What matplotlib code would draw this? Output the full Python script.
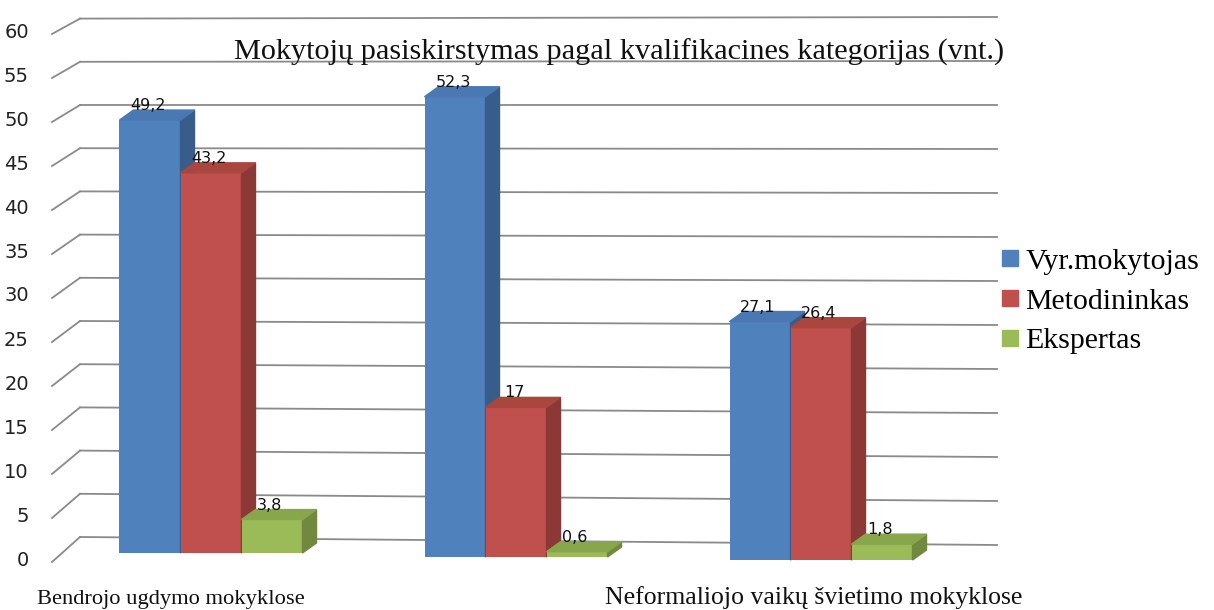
import matplotlib
matplotlib.use("Agg")
import matplotlib.pyplot as plt
from matplotlib.patches import Polygon
from matplotlib.lines import Line2D

# data
groups = ["Bendrojo ugdymo mokyklose", "", "Neformaliojo vaikų švietimo mokyklose"]
series = ["Vyr.mokytojas", "Metodininkas", "Ekspertas"]
vyr = [49.2, 52.3, 27.1]
metod = [43.2, 17, 26.4]
eksp = [3.8, 0.6, 1.8]
yticks = list(range(0, 65, 5))

front = ["#4F81BD", "#C0504D", "#9BBB59"]
side = ["#385D8A", "#8C3836", "#71893F"]
top = ["#4A78B2", "#A9473F", "#88A64C"]

# pixel -> data helpers (figure is 1214x610 at dpi 100, value 0 sits at y=557px)
PX_X = 305.0   # px per category step
PX_Y = 8.8     # px per value unit
X0 = 211       # px of first group centre
def ux(px):
    return px / PX_X
def uy(px):
    return px / PX_Y

fig = plt.figure(figsize=(12.14, 6.1), dpi=100)
ax = fig.add_axes([0, 0, 1, 1])
ax.set_xlim(-X0 / PX_X, (1214 - X0) / PX_X)
ax.set_ylim(-(610 - 557) / PX_Y, (557) / PX_Y)
ax.axis("off")

# back wall gridlines with the slanted side wall part (perspective look)
for v in yticks:
    lab = v - uy(3)
    y_front = lab - uy(2)
    y_back_l = lab + uy(23 - 0.16 * v)
    y_back_r = lab + uy(15)
    xa, xb, xc = ux(52 - X0), ux(80 - X0), ux(997 - X0)
    ax.plot([xa, xb], [y_front, y_back_l], color="#8a8a8a", lw=1.3, zorder=1)
    ax.plot([xb, xc], [y_back_l, y_back_r], color="#8a8a8a", lw=1.3, zorder=1)
    ax.text(ux(29 - X0), lab, str(v), ha="right", va="center",
            fontsize=14, color="#222222", family="DejaVu Sans")

# pseudo 3d bars, each group sits a little lower going right
base = [uy(4), 0, -uy(3)]
width = ux(61)
dx, dy = ux(14), uy(10)
values = [vyr, metod, eksp]
z = 3
for g in range(len(groups)):
    b = base[g]
    for s in range(len(series)):
        v = values[s][g]
        xl = g + (s - 1.5) * width
        xr = xl + width
        ax.bar(xl, v, width=width, bottom=b, align="edge", color=front[s], zorder=z)
        ax.add_patch(Polygon([(xr, b), (xr + dx, b + dy), (xr + dx, b + v + dy), (xr, b + v)],
                             closed=True, color=side[s], zorder=z))
        ax.add_patch(Polygon([(xl, b + v), (xl + dx, b + v + dy), (xr + dx, b + v + dy), (xr, b + v)],
                             closed=True, color=top[s], zorder=z))
        ax.text(xl + width / 2 - ux(2), b + v + dy, f"{v:g}".replace(".", ","),
                ha="center", va="baseline", fontsize=11.5, color="#111111",
                family="DejaVu Sans", zorder=z + 1)
        z += 1

# category labels (middle one is not shown in the original)
label_x = [171, None, 814]
label_size = [16.2, None, 18.5]
for g, name in enumerate(groups):
    if name:
        ax.text(ux(label_x[g] - X0), -uy(604 - 557), name, ha="center", va="baseline",
                fontsize=label_size[g], family="Liberation Serif", color="#111111")

ax.text(ux(619 - X0), uy(557 - 60),
        "Mokytojų pasiskirstymas pagal kvalifikacines kategorijas (vnt.)",
        ha="center", va="baseline", fontsize=21.8, family="Liberation Serif",
        color="#111111", zorder=20)

handles = [Line2D([], [], marker="s", linestyle="none", markersize=11.5,
                  markerfacecolor=c, markeredgecolor=c) for c in front]
ax.legend(handles, series, loc="upper left", bbox_to_anchor=(1000 / 1214, 1 - 248 / 610),
          frameon=False, prop={"family": "Liberation Serif", "size": 21.5},
          handletextpad=0.15, labelspacing=0.43, handlelength=0.7, borderaxespad=0,
          borderpad=0)

fig.savefig("out.png", dpi=100)
